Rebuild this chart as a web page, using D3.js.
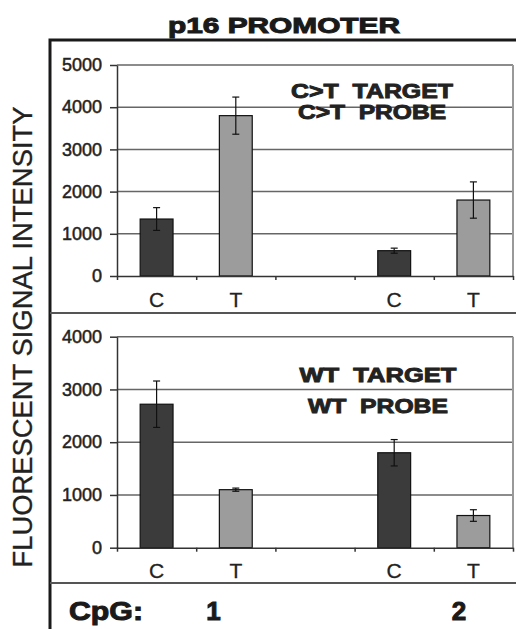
<!DOCTYPE html>
<html>
<head>
<meta charset="utf-8">
<script src="https://cdn.jsdelivr.net/npm/d3@7"></script>
<style>
  body { margin: 0; background: #fff; }
  svg text { font-family: "Liberation Sans", Arial, sans-serif; }
</style>
</head>
<body>
<div id="chart"></div>
<script>
// categories: C / T per CpG site, with an empty slot between the two sites
const categories = ['C1', 'T1', 'gap', 'C2', 'T2'];
const tickLabels = ['C', 'T', '', 'C', 'T'];
const baseType = ['C', 'T', null, 'C', 'T'];

// C>T target / C>T probe panel
const mutValues = [1350, 3800, null, 600, 1800];
const mutErrors = [270, 440, null, 60, 430];
const mutTicks = [0, 1000, 2000, 3000, 4000, 5000];

// WT target / WT probe panel
const wtValues = [2720, 1100, null, 1800, 610];
const wtErrors = [440, 30, null, 250, 110];
const wtTicks = [0, 1000, 2000, 3000, 4000];

const cpgLabels = ['1', '2'];

const W = 516, H = 629;
const plotLeft = 117, plotRight = 513;

const svg = d3.select('#chart').append('svg')
  .attr('width', W)
  .attr('height', H);

// outer frame
svg.append('path')
  .attr('d', 'M50,' + H + 'L50,40L' + W + ',40')
  .attr('fill', 'none')
  .attr('stroke', '#1a1a1a')
  .attr('stroke-width', 3);

[313, 583].forEach(function(y) {
  svg.append('line')
    .attr('x1', 50).attr('x2', W)
    .attr('y1', y).attr('y2', y)
    .attr('stroke', '#555')
    .attr('stroke-width', 2);
});

// title
svg.append('text')
  .attr('x', 284)
  .attr('y', 33)
  .attr('text-anchor', 'middle')
  .attr('font-size', 22)
  .attr('font-weight', 'bold')
  .attr('fill', '#1a1a1a')
  .attr('stroke', '#1a1a1a')
  .attr('stroke-width', 1)
  .attr('textLength', 232)
  .attr('lengthAdjust', 'spacingAndGlyphs')
  .text('p16 PROMOTER');

// y axis title
svg.append('text')
  .attr('transform', 'translate(32,337) rotate(-90)')
  .attr('text-anchor', 'middle')
  .attr('font-size', 27)
  .attr('fill', '#222')
  .attr('stroke', '#222')
  .attr('stroke-width', 0.3)
  .attr('textLength', 461)
  .attr('lengthAdjust', 'spacingAndGlyphs')
  .text('FLUORESCENT SIGNAL INTENSITY');

const x = d3.scaleBand()
  .domain(categories)
  .range([plotLeft, plotRight])
  .paddingInner(0.585)
  .paddingOuter(0.2925);

const xEdge = d3.scaleLinear()
  .domain([0, categories.length])
  .range([plotLeft, plotRight]);

function drawPanel(cfg) {
  const y = d3.scaleLinear()
    .domain([0, cfg.ticks[cfg.ticks.length - 1]])
    .range([cfg.bottom, cfg.top]);

  const g = svg.append('g');

  // gridlines
  g.selectAll('line.grid')
    .data(cfg.ticks.slice(1))
    .enter().append('line')
    .attr('class', 'grid')
    .attr('x1', plotLeft).attr('x2', plotRight)
    .attr('y1', function(d) { return y(d); })
    .attr('y2', function(d) { return y(d); })
    .attr('stroke', '#666')
    .attr('stroke-width', 1.5);

  // right border of plot area
  g.append('line')
    .attr('x1', plotRight).attr('x2', plotRight)
    .attr('y1', cfg.top).attr('y2', cfg.bottom)
    .attr('stroke', '#999')
    .attr('stroke-width', 2);

  // annotation
  cfg.notes.forEach(function(n) {
    g.append('text')
      .attr('x', plotLeft + n.fx * (plotRight - plotLeft))
      .attr('y', y(n.v))
      .attr('text-anchor', 'middle')
      .attr('font-size', 20)
      .attr('font-weight', 'bold')
      .attr('fill', '#222')
      .attr('stroke', '#222')
      .attr('stroke-width', 0.9)
      .attr('textLength', n.w)
      .attr('lengthAdjust', 'spacingAndGlyphs')
      .style('white-space', 'pre')
      .text(n.text);
  });

  const rows = categories.map(function(c, i) {
    return {key: c, type: baseType[i], v: cfg.values[i], e: cfg.errors[i]};
  }).filter(function(d) { return d.v != null; });

  // bars
  g.selectAll('rect.bar')
    .data(rows)
    .enter().append('rect')
    .attr('class', 'bar')
    .attr('x', function(d) { return x(d.key); })
    .attr('width', x.bandwidth())
    .attr('y', function(d) { return y(d.v); })
    .attr('height', function(d) { return y(0) - y(d.v); })
    .attr('fill', function(d) { return d.type === 'C' ? '#3b3b3b' : '#9c9c9c'; })
    .attr('stroke', '#111')
    .attr('stroke-width', 1.2);

  // error bars
  const eb = g.selectAll('g.err')
    .data(rows)
    .enter().append('g')
    .attr('class', 'err')
    .attr('stroke', '#111')
    .attr('stroke-width', 1.2);
  const cx = function(d) { return x(d.key) + x.bandwidth() / 2; };
  eb.append('line')
    .attr('x1', cx).attr('x2', cx)
    .attr('y1', function(d) { return y(d.v + d.e); })
    .attr('y2', function(d) { return y(d.v - d.e); });
  [1, -1].forEach(function(s) {
    eb.append('line')
      .attr('x1', function(d) { return cx(d) - 3.5; })
      .attr('x2', function(d) { return cx(d) + 3.5; })
      .attr('y1', function(d) { return y(d.v + s * d.e); })
      .attr('y2', function(d) { return y(d.v + s * d.e); });
  });

  // y axis
  const yAxis = g.append('g')
    .attr('transform', 'translate(' + plotLeft + ',0)')
    .call(d3.axisLeft(y).tickValues(cfg.ticks).tickFormat(d3.format('d'))
      .tickSize(7).tickPadding(8).tickSizeOuter(0));
  yAxis.select('.domain').attr('stroke', '#333').attr('stroke-width', 1.5);
  yAxis.selectAll('.tick line').attr('stroke', '#333').attr('stroke-width', 1.5);
  yAxis.selectAll('.tick text')
    .attr('font-size', 18)
    .attr('fill', '#222')
    .attr('stroke', '#222')
    .attr('stroke-width', 0.5)
    .style('font-family', '"Liberation Sans", Arial, sans-serif');

  // x axis: boundary ticks
  const xAxis = g.append('g')
    .attr('transform', 'translate(0,' + y(0) + ')')
    .call(d3.axisBottom(xEdge).ticks(categories.length).tickSize(4).tickSizeOuter(0).tickFormat(''));
  xAxis.select('.domain').attr('stroke', '#333').attr('stroke-width', 1.5);
  xAxis.selectAll('.tick line').attr('stroke', '#333').attr('stroke-width', 1.5);

  // x category labels
  g.selectAll('text.cat')
    .data(categories)
    .enter().append('text')
    .attr('class', 'cat')
    .attr('x', function(d) { return x(d) + x.bandwidth() / 2; })
    .attr('y', y(0) + cfg.labelGap)
    .attr('text-anchor', 'middle')
    .attr('font-size', 21)
    .attr('fill', '#222')
    .attr('stroke', '#222')
    .attr('stroke-width', 0.3)
    .text(function(d, i) { return tickLabels[i]; });
}

drawPanel({
  top: 65, bottom: 276, ticks: mutTicks,
  values: mutValues, errors: mutErrors, labelGap: 31,
  notes: [
    {text: 'C>T  TARGET', v: 4220, fx: 0.644, w: 162},
    {text: 'C>T  PROBE', v: 3720, fx: 0.644, w: 148}
  ]
});

drawPanel({
  top: 336.7, bottom: 547.7, ticks: wtTicks,
  values: wtValues, errors: wtErrors, labelGap: 30.5,
  notes: [
    {text: 'WT  TARGET', v: 3141, fx: 0.659, w: 157},
    {text: 'WT  PROBE', v: 2553, fx: 0.659, w: 140}
  ]
});

// CpG row
svg.append('text')
  .attr('x', 69)
  .attr('y', 620)
  .attr('font-size', 26)
  .attr('font-weight', 'bold')
  .attr('fill', '#1a1a1a')
  .attr('stroke', '#1a1a1a')
  .attr('stroke-width', 1)
  .attr('textLength', 74)
  .attr('lengthAdjust', 'spacingAndGlyphs')
  .text('CpG:');

svg.selectAll('text.cpg')
  .data(cpgLabels)
  .enter().append('text')
  .attr('class', 'cpg')
  .attr('x', function(d, i) { return i === 0 ? x('T1') - 6 : x('T2') + 2; })
  .attr('y', 620)
  .attr('text-anchor', 'middle')
  .attr('font-size', 26)
  .attr('font-weight', 'bold')
  .attr('fill', '#1a1a1a')
  .attr('stroke', '#1a1a1a')
  .attr('stroke-width', 1)
  .text(function(d) { return d; });
</script>
</body>
</html>
